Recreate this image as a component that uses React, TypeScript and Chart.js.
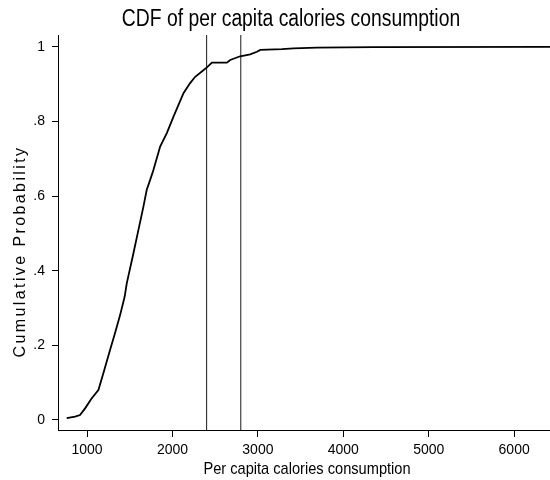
import React, { useEffect, useRef } from "react";
import { Chart, registerables } from "chart.js";

Chart.register(...registerables);

const calories = [762, 860, 918, 977, 1055, 1133, 1191, 1270, 1328, 1387, 1440, 1465, 1543, 1601, 1660, 1699, 1738, 1777, 1856, 1934, 2012, 2129, 2207, 2266, 2344, 2403, 2462, 2637, 2676, 2793, 2910, 2989, 3028, 3282, 3418, 3692, 4356, 6420];
const cumProb = [0.005, 0.009, 0.013, 0.031, 0.058, 0.08, 0.125, 0.188, 0.233, 0.281, 0.33, 0.366, 0.447, 0.509, 0.572, 0.617, 0.643, 0.67, 0.733, 0.769, 0.813, 0.876, 0.903, 0.92, 0.934, 0.945, 0.958, 0.958, 0.965, 0.975, 0.98, 0.987, 0.992, 0.994, 0.996, 0.998, 0.9995, 1.0];
const refLines = [2400, 2800];
const xTicks = [1000, 2000, 3000, 4000, 5000, 6000];
const yTicks = [0, 0.2, 0.4, 0.6, 0.8, 1];
const yTickLabels = ["0", ".2", ".4", ".6", ".8", "1"];
const titleText = "CDF of per capita calories consumption";
const xTitle = "Per capita calories consumption";
const yTitle = "Cumulative Probability";

const X_MIN = 660;
const X_MAX = 6420;
const Y_MIN = -0.027;
const Y_MAX = 1.032;
const FONT = '"Liberation Sans", Arial, Helvetica, sans-serif';

const textPlugin = {
  id: "stataText",
  afterDraw(chart: any) {
    const ctx = chart.ctx;
    const area = chart.chartArea;
    ctx.save();
    ctx.fillStyle = "#000";
    ctx.textAlign = "center";
    ctx.textBaseline = "alphabetic";

    ctx.save();
    ctx.translate(291, 26);
    ctx.scale(0.84, 1);
    ctx.font = `23px ${FONT}`;
    ctx.fillText(titleText, 0, 0);
    ctx.restore();

    ctx.save();
    ctx.translate((area.left + area.right) / 2 + 3, 474);
    ctx.scale(0.86, 1);
    ctx.font = `17px ${FONT}`;
    ctx.fillText(xTitle, 0, 0);
    ctx.restore();

    ctx.save();
    ctx.translate(25, 251.5);
    ctx.rotate(-Math.PI / 2);
    ctx.font = `16px ${FONT}`;
    (ctx as any).letterSpacing = "2.4px";
    ctx.fillText(yTitle, 0, 0);
    ctx.restore();

    ctx.restore();
  },
};

export default function App() {
  const ref = useRef<HTMLCanvasElement>(null);
  useEffect(() => {
    document.body.style.margin = "0";
    const canvas = ref.current!;
    const refDatasets = refLines.map((v) => ({
      data: [
        { x: v, y: Y_MIN },
        { x: v, y: Y_MAX },
      ],
      borderColor: "#1a1a1a",
      borderWidth: 1,
      pointRadius: 0,
      fill: false,
    }));
    const chart = new Chart(canvas, {
      type: "line",
      data: {
        datasets: [
          {
            data: calories.map((c, i) => ({ x: c, y: cumProb[i] })),
            borderColor: "#000",
            borderWidth: 1.8,
            pointRadius: 0,
            tension: 0,
            fill: false,
          },
          ...refDatasets,
        ],
      },
      options: {
        responsive: false,
        animation: false,
        layout: { padding: { top: 35, left: 0, right: 0, bottom: 0 } },
        plugins: {
          legend: { display: false },
          title: { display: false },
          tooltip: { enabled: false },
        },
        scales: {
          x: {
            type: "linear",
            min: X_MIN,
            max: X_MAX,
            afterBuildTicks: (s: any) => {
              s.ticks = xTicks.map((v) => ({ value: v }));
            },
            afterFit: (s: any) => {
              s.height = 50;
            },
            ticks: {
              color: "#000",
              font: { family: FONT, size: 14 },
              padding: 5,
              maxRotation: 0,
              callback: (v: any) => String(v),
            },
            grid: {
              display: true,
              drawOnChartArea: false,
              drawTicks: true,
              tickLength: 7,
              tickColor: "#000",
            },
            border: { display: true, color: "#000", width: 1 },
          },
          y: {
            type: "linear",
            min: Y_MIN,
            max: Y_MAX,
            afterBuildTicks: (s: any) => {
              s.ticks = yTicks.map((v) => ({ value: v }));
            },
            afterFit: (s: any) => {
              s.width = 58;
            },
            ticks: {
              color: "#000",
              font: { family: FONT, size: 14 },
              padding: 7,
              callback: (v: any) => {
                const i = yTicks.findIndex((t) => Math.abs(t - v) < 1e-9);
                return i >= 0 ? yTickLabels[i] : "";
              },
            },
            grid: {
              display: true,
              drawOnChartArea: false,
              drawTicks: true,
              tickLength: 6,
              tickColor: "#000",
            },
            border: { display: true, color: "#000", width: 1 },
          },
        },
      },
      plugins: [textPlugin],
    });
    return () => chart.destroy();
  }, []);
  return <canvas ref={ref} width={550} height={480} style={{ display: "block" }} />;
}
